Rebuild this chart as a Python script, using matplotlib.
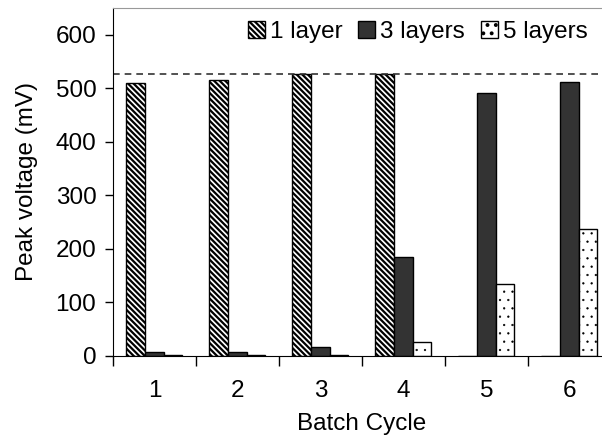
import matplotlib
matplotlib.use("Agg")
import matplotlib.pyplot as plt
import numpy as np

plt.rcParams['font.family'] = ['Liberation Sans', 'DejaVu Sans']
plt.rcParams['font.size'] = 17.5
plt.rcParams['hatch.linewidth'] = 1.6
plt.rcParams['hatch.color'] = '#555555'

cycles = ["1", "2", "3", "4", "5", "6"]
one_layer = [510, 515, 527, 527, 0, 0]
three_layers = [7, 8, 17, 185, 492, 512]
five_layers = [2, 2, 1, 27, 135, 237]
ref_line = 527

fig = plt.figure(figsize=(6.02, 4.43), dpi=100)
ax = fig.add_axes([0.1877, 0.1964, 0.827, 0.7856])

x = np.arange(1, len(cycles) + 1)
w = 0.225
ax.bar(x - w, one_layer, w, color='white', edgecolor='black', hatch='\\\\\\\\\\\\', linewidth=1.0, label='1 layer')
ax.bar(x, three_layers, w, color='#333333', edgecolor='black', linewidth=1.0, label='3 layers')
dots = ax.bar(x + w, five_layers, w, color='white', edgecolor='black', hatch='..', linewidth=1.0, label='5 layers')
for p in dots:
    try:
        p.set_hatch_linewidth(0.4)
    except AttributeError:
        pass

ax.axhline(ref_line, color='#333333', linestyle=(0, (4, 3)), linewidth=1.2)

ax.set_xlim(0.5, 6.5)
ax.set_ylim(0, 650)
ax.set_yticks(range(0, 601, 100))
ax.set_xticks(np.arange(0.5, 7, 1))
ax.set_xticklabels([])
ax.set_xticks(x, minor=True)
ax.set_xticklabels(cycles, minor=True)
ax.tick_params(axis='x', which='major', length=7, direction='out', width=1)
ax.tick_params(axis='x', which='minor', length=0, pad=17)
ax.tick_params(axis='y', length=6, direction='out', width=1, pad=6)

ax.spines['right'].set_visible(False)
ax.spines['top'].set_color('#999999')
ax.spines['left'].set_color('black')
ax.spines['bottom'].set_color('black')

ax.set_xlabel('Batch Cycle', labelpad=8)
ax.set_ylabel('Peak voltage (mV)', labelpad=13)

leg = fig.legend(loc='upper right', bbox_to_anchor=(1.0, 0.985), ncol=3, frameon=False,
                 handlelength=0.7, handleheight=0.7, handletextpad=0.2, columnspacing=0.65,
                 borderaxespad=0.2)

fig.savefig('out.png', dpi=100)
